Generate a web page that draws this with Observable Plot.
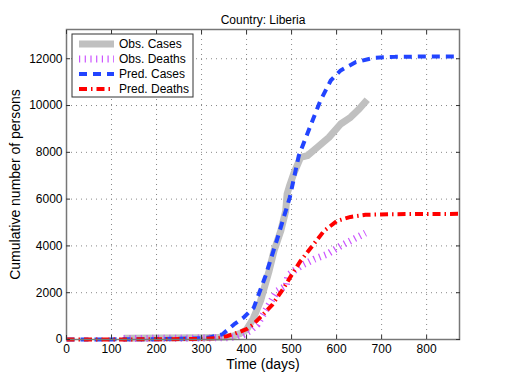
<!DOCTYPE html>
<html><head><meta charset="utf-8">
<script src="https://cdn.jsdelivr.net/npm/d3@7"></script>
<script src="https://cdn.jsdelivr.net/npm/@observablehq/plot@0.6"></script>
<style>body{margin:0;background:#fff} svg{display:block}</style>
</head><body><div id="chart"></div>
<script>
const titleText = "Country: Liberia";
const xLabel = "Time (days)";
const yLabel = "Cumulative number of persons";
const seriesNames = ["Obs. Cases", "Obs. Deaths", "Pred. Cases", "Pred. Deaths"];
const seriesColors = ["#c0c0c0", "#cc55ff", "#2244ff", "#ff0000"];
const seriesWidths = [7, 7, 4, 4];
const seriesDash = [null, "1.2,4.5", "8,6", "8,4,1.5,4"];

const xTicks = [0, 100, 200, 300, 400, 500, 600, 700, 800];
const yTicks = [0, 2000, 4000, 6000, 8000, 10000, 12000];

const obsCasesDays = [127, 200, 300, 350, 370, 385, 400, 415, 431, 450, 461, 476, 487, 490, 496, 505, 520, 535, 557, 583, 609, 631, 650, 668];
const obsCasesVals = [50, 60, 80, 100, 150, 250, 420, 900, 1645, 2930, 3790, 4640, 5500, 6215, 6600, 7100, 7780, 7855, 8210, 8640, 9210, 9495, 9850, 10250];

const obsDeathsDays = [127, 200, 300, 360, 380, 394, 410, 424, 446, 468, 488, 492, 520, 550, 579, 609, 638, 664];
const obsDeathsVals = [40, 50, 60, 80, 120, 220, 400, 645, 1360, 2075, 2300, 2750, 3140, 3430, 3645, 4000, 4290, 4550];

const predCasesDays = [0, 100, 200, 300, 320, 346, 372, 394, 416, 442, 468, 496, 516, 542, 564, 587, 609, 642, 683, 730, 787, 873];
const predCasesVals = [0, 5, 15, 50, 100, 218, 645, 950, 1360, 2715, 4290, 6070, 7855, 9140, 10210, 11070, 11500, 11850, 12040, 12080, 12095, 12100];

const predDeathsDays = [0, 100, 200, 300, 340, 357, 368, 385, 401, 413, 427, 457, 483, 501, 520, 546, 572, 601, 631, 664, 720, 787, 873];
const predDeathsVals = [0, 3, 8, 25, 70, 145, 218, 330, 450, 620, 880, 1480, 2215, 2790, 3360, 4000, 4640, 5070, 5240, 5330, 5355, 5365, 5370];

const rows = (days, vals) => days.map((d, i) => ({day: d, value: vals[i]}));
const series = [
  rows(obsCasesDays, obsCasesVals),
  rows(obsDeathsDays, obsDeathsVals),
  rows(predCasesDays, predCasesVals),
  rows(predDeathsDays, predDeathsVals)
];

const font = "'Liberation Sans', Arial, Helvetica, sans-serif";
const gridStyle = {stroke: "#888", strokeOpacity: 1, strokeDasharray: "1,4", strokeWidth: 1};
const plain = d => String(d);

const chart = Plot.plot({
  width: 507, height: 382,
  marginLeft: 66, marginRight: 48, marginTop: 29, marginBottom: 43,
  style: {fontFamily: font, fontSize: "12px", color: "#000", background: "#fff", overflow: "visible"},
  x: {domain: [0, 873]},
  y: {domain: [0, 13250]},
  marks: [
    Plot.gridX(xTicks, gridStyle),
    Plot.gridY(yTicks, gridStyle),
    ...series.map((s, i) => Plot.line(s, {
      x: "day", y: "value",
      stroke: seriesColors[i], strokeWidth: seriesWidths[i],
      strokeDasharray: seriesDash[i],
      strokeLinecap: "butt", strokeLinejoin: "round"
    })),
    Plot.frame({stroke: "#777", strokeWidth: 1.5}),
    Plot.axisX(xTicks, {anchor: "bottom", tickSize: -4, tickPadding: 9, stroke: "#333", fontSize: 12, tickFormat: plain, label: null}),
    Plot.axisX(xTicks, {anchor: "top", tickSize: -4, tickFormat: () => "", stroke: "#333", label: null}),
    Plot.axisY(yTicks, {anchor: "left", tickSize: -4, tickPadding: 8, stroke: "#333", fontSize: 12, tickFormat: plain, label: null}),
    Plot.axisY(yTicks, {anchor: "right", tickSize: -4, tickFormat: () => "", stroke: "#333", label: null}),
    Plot.text([titleText], {frameAnchor: "top", dy: -14, fontSize: 12}),
    Plot.text([xLabel], {frameAnchor: "bottom", dy: 29.5, fontSize: 14}),
    Plot.text([yLabel], {frameAnchor: "left", dx: -51, rotate: -90, textAnchor: "middle", fontSize: 14})
  ]
});
document.getElementById("chart").appendChild(chart);

// Legend
const svg = d3.select(chart.tagName.toLowerCase() === "svg" ? chart : chart.querySelector("svg"));
const lg = svg.append("g").attr("font-family", font).attr("font-size", 12).attr("text-anchor", "start");
lg.append("rect").attr("x", 72).attr("y", 34).attr("width", 121).attr("height", 63)
  .attr("fill", "#fff").attr("stroke", "#333").attr("stroke-width", 1);
seriesNames.forEach((name, i) => {
  const yy = 44 + i * 15;
  lg.append("line").attr("x1", 79).attr("x2", 114).attr("y1", yy).attr("y2", yy)
    .attr("stroke", seriesColors[i]).attr("stroke-width", seriesWidths[i])
    .attr("stroke-dasharray", seriesDash[i]);
  lg.append("text").attr("x", 119).attr("y", yy).attr("dy", "0.35em").attr("text-anchor", "start").text(name);
});
</script>
</body></html>
